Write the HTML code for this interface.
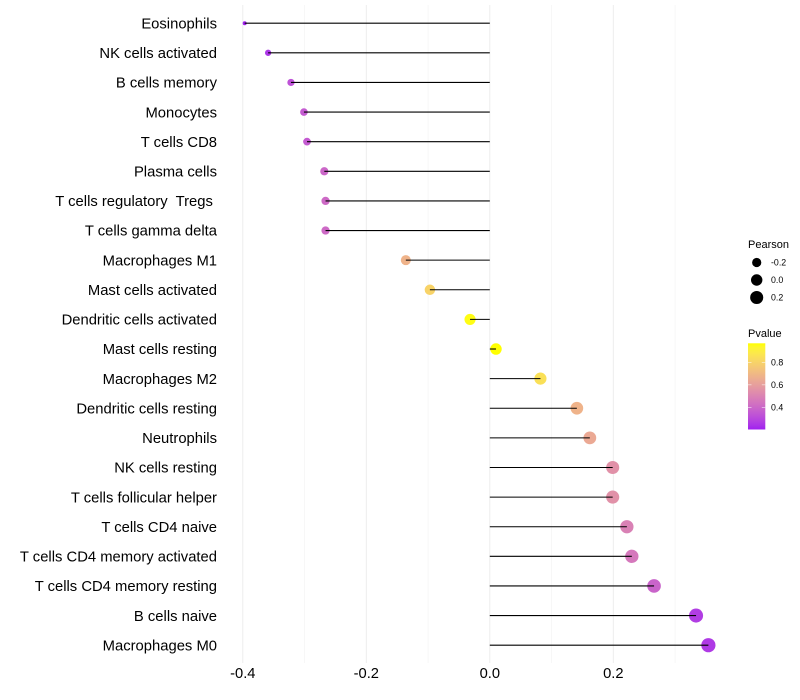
<!DOCTYPE html>
<html>
<head>
<meta charset="utf-8">
<title>Immune cell correlation lollipop chart</title>
<style>
html,body{margin:0;padding:0;background:#fff;width:800px;height:700px;overflow:hidden}
svg{display:block}
text{font-family:"Liberation Sans",Arial,sans-serif;fill:#000}
</style>
</head>
<body>
<svg id="chart" width="800" height="700" viewBox="0 0 800 700" xmlns="http://www.w3.org/2000/svg">
<defs>
<linearGradient id="pvalue-gradient" x1="0" y1="1" x2="0" y2="0"></linearGradient>
</defs>
<g id="grid"></g>
<g id="dots"></g>
<g id="stems"></g>
<g id="ylabels"></g>
<g id="xlabels"></g>
<g id="size-legend"></g>
<g id="color-legend"></g>
</svg>
<script>
const categories = ["Eosinophils","NK cells activated","B cells memory","Monocytes","T cells CD8","Plasma cells","T cells regulatory  Tregs ","T cells gamma delta","Macrophages M1","Mast cells activated","Dendritic cells activated","Mast cells resting","Macrophages M2","Dendritic cells resting","Neutrophils","NK cells resting","T cells follicular helper","T cells CD4 naive","T cells CD4 memory activated","T cells CD4 memory resting","B cells naive","Macrophages M0"];
const pearson = [-0.397,-0.359,-0.322,-0.301,-0.296,-0.268,-0.266,-0.266,-0.136,-0.097,-0.032,0.010,0.082,0.141,0.162,0.199,0.199,0.222,0.230,0.266,0.334,0.354];
const pvalue = [0.21,0.25,0.33,0.36,0.36,0.40,0.41,0.41,0.68,0.80,0.96,0.97,0.85,0.68,0.64,0.55,0.55,0.49,0.46,0.39,0.27,0.26];
const xTicks = [-0.4,-0.2,0.0,0.2];
const xMinorTicks = [-0.3,-0.1,0.1,0.3];
const sizeLegendValues = [-0.2,0.0,0.2];
const colorLegendTicks = [0.8,0.6,0.4];

const NS = "http://www.w3.org/2000/svg";
function el(parent, tag, attrs, txt){
  const e = document.createElementNS(NS, tag);
  for (const k in attrs) e.setAttribute(k, attrs[k]);
  if (txt !== undefined) e.textContent = txt;
  parent.appendChild(e);
  return e;
}
const $ = id => document.getElementById(id);

/* axis functions */
const xScale = v => 489.8 + v * 617.5;
const yScale = i => 23.2 + i * (622 / 21);
const pMin = 0.204, pMax = 0.969;
const minR = Math.min(...pearson), maxR = Math.max(...pearson);
function radius(v){
  const t = Math.max(0, (v - minR) / (maxR - minR));
  return 2.0 + 5.1 * Math.sqrt(t);
}

/* Lab colour interpolation, purple to yellow */
function toLab(c){
  const f = x => { x /= 255; return x > 0.04045 ? Math.pow((x + 0.055) / 1.055, 2.4) : x / 12.92; };
  const r = f(c[0]), g = f(c[1]), b = f(c[2]);
  const X = (0.4124 * r + 0.3576 * g + 0.1805 * b) / 0.95047;
  const Y = 0.2126 * r + 0.7152 * g + 0.0722 * b;
  const Z = (0.0193 * r + 0.1192 * g + 0.9505 * b) / 1.08883;
  const h = t => t > 0.008856 ? Math.cbrt(t) : 7.787 * t + 16 / 116;
  return [116 * h(Y) - 16, 500 * (h(X) - h(Y)), 200 * (h(Y) - h(Z))];
}
function fromLab(l){
  const fy = (l[0] + 16) / 116, fx = l[1] / 500 + fy, fz = fy - l[2] / 200;
  const h = t => t * t * t > 0.008856 ? t * t * t : (t - 16 / 116) / 7.787;
  const X = h(fx) * 0.95047, Y = h(fy), Z = h(fz) * 1.08883;
  const g = x => { x = Math.min(1, Math.max(0, x)); return Math.round(255 * (x > 0.0031308 ? 1.055 * Math.pow(x, 1 / 2.4) - 0.055 : 12.92 * x)); };
  return "rgb(" + g(3.2406 * X - 1.5372 * Y - 0.4986 * Z) + "," + g(-0.9689 * X + 1.8758 * Y + 0.0415 * Z) + "," + g(0.0557 * X - 0.2040 * Y + 1.0570 * Z) + ")";
}
const labLow = toLab([160, 32, 240]), labHigh = toLab([255, 255, 0]);
function colorAt(t){
  t = Math.min(1, Math.max(0, t));
  return fromLab([0, 1, 2].map(i => labLow[i] + (labHigh[i] - labLow[i]) * t));
}
const colorOf = p => colorAt((p - pMin) / (pMax - pMin));

/* grid */
xMinorTicks.forEach(v => {
  const ln = el($("grid"), "line", {x1: xScale(v), x2: xScale(v), y1: 5, y2: 663, stroke: "#f2f2f2", "stroke-width": 0.6});
  
  
});
xTicks.forEach(v => {
  const ln = el($("grid"), "line", {x1: xScale(v), x2: xScale(v), y1: 5, y2: 663, stroke: "#ededed", "stroke-width": 1});
  
  
  const t = el($("xlabels"), "text", {x: xScale(v), y: 678, "text-anchor": "middle", "font-size": 14.7}, v.toFixed(1));
  
  
});

/* marks */
categories.forEach((c, i) => {
  const y = yScale(i);
  const lab = el($("ylabels"), "text", {x: 217, y: y + 5.2, "text-anchor": "end", "font-size": 14.8}, c);
  lab.setAttribute("xml:space", "preserve");
  lab.style.whiteSpace = "pre";
  
  
  const dot = el($("dots"), "circle", {cx: xScale(pearson[i]), cy: y, r: radius(pearson[i]), fill: colorOf(pvalue[i])});
  
  
  const stem = el($("stems"), "line", {x1: xScale(0), x2: xScale(pearson[i]), y1: y, y2: y, stroke: "#000", "stroke-width": 1.07});
  
  
});

/* Pearson size legend */
const sizeTitle = el($("size-legend"), "text", {x: 748, y: 248, "font-size": 11}, "Pearson");


sizeLegendValues.forEach((v, i) => {
  const y = 262.5 + i * 17.5;
  const d = el($("size-legend"), "circle", {cx: 756.7, cy: y, r: radius(v), fill: "#000"});
  
  
  const t = el($("size-legend"), "text", {x: 771, y: y + 3.2, "font-size": 8.8}, v.toFixed(1));
  
  
});

/* Pvalue colour legend */
const grad = $("pvalue-gradient");
for (let s = 0; s <= 20; s++) {
  el(grad, "stop", {offset: s / 20, "stop-color": colorAt(s / 20)});
}
const colorTitle = el($("color-legend"), "text", {x: 748, y: 337, "font-size": 11}, "Pvalue");


const barTop = 343.3, barBottom = 429.5, barLeft = 748, barW = 17.3;
const bar = el($("color-legend"), "rect", {x: barLeft, y: barTop, width: barW, height: barBottom - barTop, fill: "url(#pvalue-gradient)"});


const barY = p => barBottom - (p - pMin) / (pMax - pMin) * (barBottom - barTop);
colorLegendTicks.forEach(p => {
  const y = barY(p);
  const a = el($("color-legend"), "line", {x1: barLeft, x2: barLeft + 3.5, y1: y, y2: y, stroke: "#fff", "stroke-width": 0.5});
  
  
  const b = el($("color-legend"), "line", {x1: barLeft + barW - 3.5, x2: barLeft + barW, y1: y, y2: y, stroke: "#fff", "stroke-width": 0.5});
  
  
  const t = el($("color-legend"), "text", {x: 771, y: y + 3.2, "font-size": 8.8}, p.toFixed(1));
  
  
});
</script>
</body>
</html>
